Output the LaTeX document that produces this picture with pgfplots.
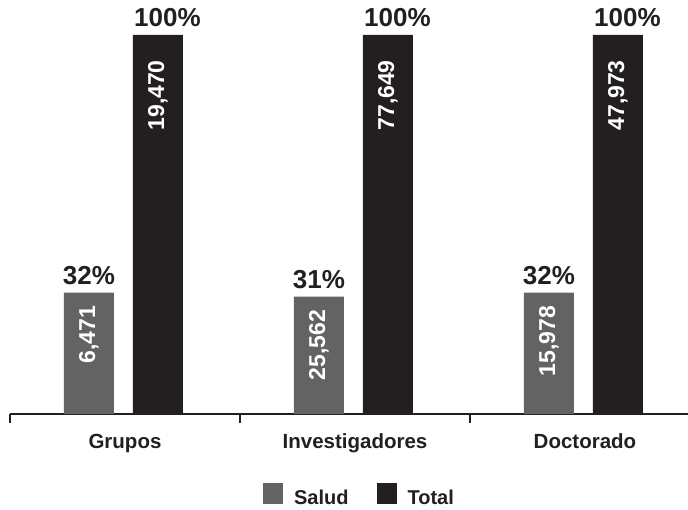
\documentclass[border=0pt]{standalone}
\usepackage{fontspec}
\setmainfont{Liberation Sans}
\usepackage{pgfplots}
\pgfplotsset{compat=1.18}
\usepackage{pgfplotstable}

\definecolor{saludgray}{HTML}{636363}
\definecolor{totalblack}{HTML}{231F20}

% share (%) and absolute count for each category
\pgfplotstableread{
x pct count
0 32 6,471
1 31 25,562
2 32 15,978
}\salud
\pgfplotstableread{
x pct count
0 100 19,470
1 100 77,649
2 100 47,973
}\total

\newcommand{\pctfont}{\bfseries\fontsize{26}{27}\selectfont}
\newcommand{\cntfont}{\bfseries\fontsize{23}{24}\selectfont}
\newcommand{\catfont}{\bfseries\fontsize{20.5}{21}\selectfont}
\newcommand{\legfont}{\bfseries\fontsize{20}{21}\selectfont}

\begin{document}
\begin{tikzpicture}
\useasboundingbox (-10pt,-95pt) rectangle (678pt,414pt);
\begin{axis}[
  at={(0pt,0pt)}, anchor=south west,
  scale only axis, width=678pt, height=379pt,
  xmin=-0.5, xmax=2.448, ymin=0, ymax=100,
  clip=false,
  axis y line=none, axis x line*=bottom,
  axis line style={line width=1.6pt, color=totalblack},
  xtick={0,1,2}, xticklabels={Grupos,Investigadores,Doctorado},
  minor xtick={-0.5,0.5,1.5},
  tick align=outside, major tick length=0pt, minor tick length=9pt,
  minor tick style={line width=1.6pt, color=totalblack},
  xticklabel style={font=\catfont, text=totalblack, anchor=base, yshift=-34pt},
  ytick=\empty,
  legend columns=2,
  legend style={at={(0.5155,-0.215)}, anchor=center, draw=none,
    font=\legfont, text=totalblack, inner sep=0pt,
    /tikz/every odd column/.append style={column sep=9pt},
    /tikz/every even column/.append style={column sep=26pt}},
  legend image code/.code={\fill[#1] (0pt,-6pt) rectangle (20pt,15pt);},
]
% Salud bars with share labels
\addplot[ybar, fill=saludgray, draw=none, bar width=50pt, bar shift=-36pt,
  point meta=explicit symbolic, nodes near coords={\pgfplotspointmeta\%},
  nodes near coords style={font=\pctfont, text=totalblack, anchor=south, inner sep=0pt, xshift=-36pt, yshift=8pt}]
  table[x=x, y=pct, meta=pct]{\salud};
\addlegendentry{Salud}
% Total bars with share labels
\addplot[ybar, fill=totalblack, draw=none, bar width=50pt, bar shift=33pt,
  point meta=explicit symbolic, nodes near coords={\pgfplotspointmeta\%},
  nodes near coords style={font=\pctfont, text=totalblack, anchor=south west, inner sep=0pt, xshift=9pt, yshift=8pt}]
  table[x=x, y=pct, meta=pct]{\total};
\addlegendentry{Total}
% absolute counts written inside the bars
\addplot[ybar, draw=none, fill=none, forget plot, bar width=50pt, bar shift=-36pt,
  point meta=explicit symbolic, nodes near coords,
  nodes near coords style={font=\cntfont, text=white, xshift=-36pt, yshift=-13pt, rotate=90, anchor=east, inner sep=0pt}]
  table[x=x, y=pct, meta=count]{\salud};
\addplot[ybar, draw=none, fill=none, forget plot, bar width=50pt, bar shift=33pt,
  point meta=explicit symbolic, nodes near coords,
  nodes near coords style={font=\cntfont, text=white, xshift=33pt, yshift=-25pt, rotate=90, anchor=east, inner sep=0pt}]
  table[x=x, y=pct, meta=count]{\total};
\end{axis}
\end{tikzpicture}
\end{document}
